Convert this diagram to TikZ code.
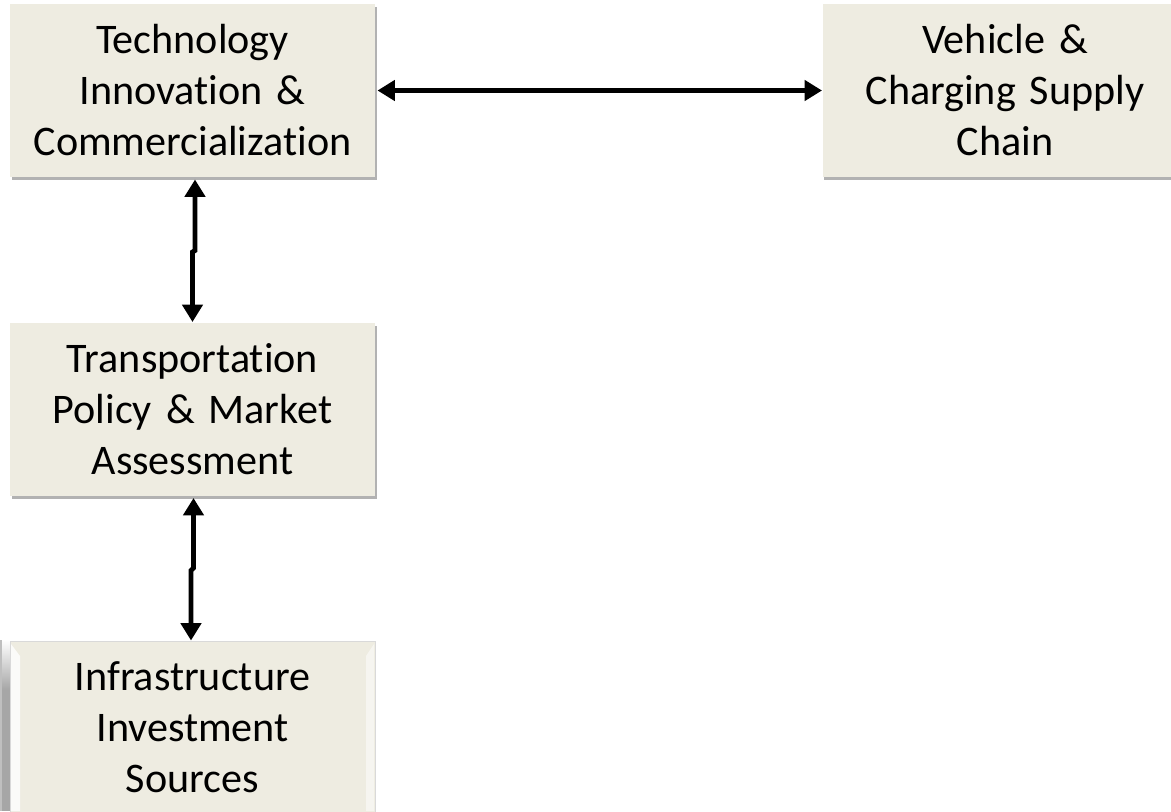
\documentclass[tikz,border=0pt]{standalone}
\usepackage{fontspec}
\setmainfont{Carlito}[Ligatures={NoCommon}]
\usetikzlibrary{arrows.meta,shadows,calc}

\definecolor{boxfill}{RGB}{238,236,225}
\tikzset{every picture/.style={line width=0.75pt}}
\tikzset{
  block/.style={fill=boxfill, draw=none, minimum width=273.75pt, minimum height=129.75pt,
    text width=258pt, align=center, inner sep=0pt,
    font=\fontsize{31.6}{38.25}\selectfont},
  blockshadow/.style={drop shadow={shadow xshift=1.2pt, shadow yshift=-2.5pt, opacity=0.3, fill=black}},
  biarrow/.style={line width=3.6pt, {Triangle[width=15pt,length=13pt]}-{Triangle[width=15pt,length=13pt]}}
}

\begin{document}
\begin{tikzpicture}[x=0.75pt,y=0.75pt,yscale=-1,xscale=1]
        \useasboundingbox (0,0) rectangle (1171,811);
        \clip (0,0) rectangle (1171,811);

        %Shape: Rectangle [id:tech]
        \node[block, blockshadow] (tech) at (192.5,90.5) {Technology\\Innovation \&\\Commercialization};
        %Shape: Rectangle [id:supply]
        \node[block, blockshadow] (supply) at (1005,90.5) {Vehicle \&\\Charging Supply\\Chain};
        %Shape: Rectangle [id:policy]
        \node[block, blockshadow] (policy) at (192.5,409) {Transportation\\Policy \& Market\\Assessment};

        %Shape: Bevel band [id:invest]
        \shade[top color=white, bottom color=black!35] (0,640) rectangle (10,690);
        \fill[black!35] (0,690) rectangle (10,811);
        \fill[black!25] (0,640) rectangle (2,811);
        \node[block, draw=black!15, line width=0.75pt] (invest) at (192.5,727.5) {Infrastructure\\Investment\\Sources};
        \fill[white, opacity=0.8] (11,644) -- (20,656) -- (20,811) -- (11,811) -- cycle;
        \fill[white, opacity=0.5] (374,644) -- (366,656) -- (366,811) -- (374,811) -- cycle;

        %Straight Lines [id:tech-supply]
        \draw[biarrow] ($(tech.east)+(2,0)$) -- (supply.west) ;
        %Straight Lines [id:tech-policy]
        \draw[biarrow] ($(tech.south)+(2.5,2)$) -- ($(tech.south)+(2.5,73)$) -- ($(policy.north)+(0,-70)$) -- (policy.north) ;
        %Straight Lines [id:policy-invest]
        \draw[biarrow] ($(policy.south)+(1,2)$) -- ($(policy.south)+(1,72)$) -- ($(invest.north)+(-1.5,-70)$) -- ($(invest.north)+(-1.5,0)$) ;

\end{tikzpicture}
\end{document}
